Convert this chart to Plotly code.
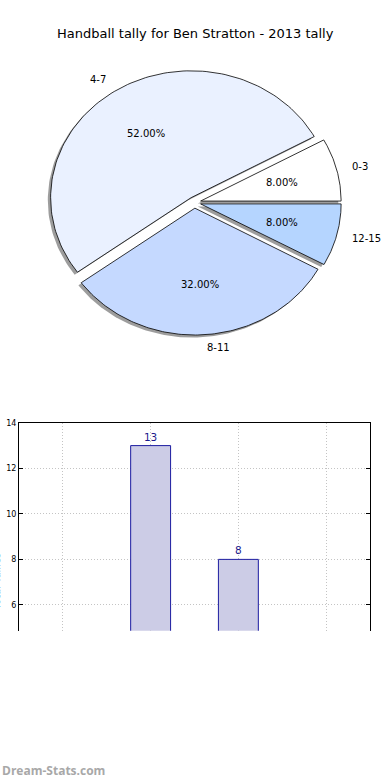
import numpy as np
import plotly.graph_objects as go

# ---- data ----
categories = ["0-3", "4-7", "8-11", "12-15"]
tally = [2, 13, 8, 2]
title_text = "Handball tally for Ben Stratton - 2013 tally"
y_title = "Total Tallies"
y_ticks = [6, 8, 10, 12, 14]
watermark = "Dream-Stats.com"

# ---- styles ----
pie_colors = ["#ffffff", "#eaf1ff", "#c5d9ff", "#b5d5ff"]
FONT = "DejaVu Sans"
W, H = 390, 780

# pie geometry (pixel units of the pie axes)
cx, cy = 194.5, 199.5
rx, ry = 140.5, 127.5
explode = 0.045
shadow = 0.02

fig = go.Figure()

total = float(sum(tally))
starts = np.cumsum([0] + tally[:-1]) / total * 360.0
ends = np.cumsum(tally) / total * 360.0

wedges = []
for i, v in enumerate(tally):
    t1, t2 = starts[i], ends[i]
    mid = np.deg2rad((t1 + t2) / 2)
    ocx = cx + explode * rx * np.cos(mid)
    ocy = cy - explode * ry * np.sin(mid)
    t = np.deg2rad(np.linspace(t1, t2, 120))
    xs = np.concatenate([[ocx], ocx + rx * np.cos(t), [ocx]])
    ys = np.concatenate([[ocy], ocy - ry * np.sin(t), [ocy]])
    wedges.append((xs, ys, ocx, ocy, mid))

# shadows first
for xs, ys, ocx, ocy, mid in wedges:
    fig.add_trace(go.Scatter(
        x=xs - shadow * rx, y=ys + shadow * ry, mode="lines", fill="toself",
        fillcolor="rgba(60,60,60,0.5)", line=dict(width=0, color="rgba(0,0,0,0)"),
        hoverinfo="skip", showlegend=False, xaxis="x", yaxis="y"))

for i, (xs, ys, ocx, ocy, mid) in enumerate(wedges):
    fig.add_trace(go.Scatter(
        x=xs, y=ys, mode="lines", fill="toself", fillcolor=pie_colors[i],
        line=dict(width=0.8, color="black"),
        hoverinfo="skip", showlegend=False, xaxis="x", yaxis="y"))

annotations = []
for i, (xs, ys, ocx, ocy, mid) in enumerate(wedges):
    lx = ocx + 1.1 * rx * np.cos(mid)
    ly = ocy - 1.1 * ry * np.sin(mid)
    annotations.append(dict(
        x=lx, y=ly, xref="x", yref="y", text=categories[i], showarrow=False,
        xanchor="left" if np.cos(mid) >= 0 else "right", yanchor="middle",
        font=dict(family=FONT, size=10, color="black")))
    px = ocx + 0.6 * rx * np.cos(mid)
    py = ocy - 0.6 * ry * np.sin(mid)
    annotations.append(dict(
        x=px, y=py, xref="x", yref="y", text=f"{tally[i] / total * 100:.2f}%",
        showarrow=False, xanchor="center", yanchor="middle",
        font=dict(family=FONT, size=10, color="black")))

# bar chart
fig.add_trace(go.Bar(
    x=list(range(len(categories))), y=tally, width=0.455,
    marker=dict(color="#ccccE6", line=dict(color="#1c1ca0", width=1)),
    text=[str(v) for v in tally], textposition="outside",
    textfont=dict(family=FONT, size=10.5, color="#1a1a8c"),
    cliponaxis=True, hoverinfo="skip", showlegend=False,
    xaxis="x2", yaxis="y2"))

annotations.append(dict(
    x=0.5, y=(H - 30) / H, xref="paper", yref="paper", text=title_text,
    showarrow=False, xanchor="center", yanchor="middle",
    font=dict(family=FONT, size=13, color="black")))
annotations.append(dict(
    x=-3.5 / W, y=(H - 581) / H, xref="paper", yref="paper", text=y_title,
    textangle=-90, showarrow=False, xanchor="center", yanchor="middle",
    font=dict(family=FONT, size=10, color="black")))
annotations.append(dict(
    x=0, y=(H - 770) / H, xref="paper", yref="paper", text="<b>" + watermark + "</b>",
    showarrow=False, xanchor="left", yanchor="middle",
    font=dict(family="Open Sans", size=12, color="#a8a8a8")))

grid = dict(showgrid=True, gridcolor="#c4c4c4", griddash="1px,2px", gridwidth=1)

fig.update_layout(
    width=W, height=H, margin=dict(l=0, r=0, t=0, b=0),
    paper_bgcolor="white", plot_bgcolor="rgba(0,0,0,0)",
    annotations=annotations,
    xaxis=dict(domain=[0, 1], range=[0, 390], visible=False, fixedrange=True),
    yaxis=dict(domain=[0.5, 1], range=[390, 0], visible=False, fixedrange=True),
    xaxis2=dict(domain=[19 / W, 370 / W], range=[-0.5, 3.5], anchor="y2",
                tickvals=list(range(len(categories))), ticktext=categories,
                showticklabels=False, side="top", showline=True, linecolor="black",
                linewidth=1, ticks="", zeroline=False, fixedrange=True, **grid),
    yaxis2=dict(domain=[150 / H, 359 / H], range=[4.863, 14], anchor="x2",
                tickvals=y_ticks, showline=True, linecolor="black", linewidth=1,
                mirror="ticks", ticks="inside", ticklen=4, tickcolor="black",
                tickfont=dict(family=FONT, size=8, color="black"),
                zeroline=False, fixedrange=True, **grid),
    showlegend=False,
)

fig.write_html("out.html", config={"displayModeBar": False},
               post_script="document.body.style.margin='0';document.body.style.overflow='hidden';")
